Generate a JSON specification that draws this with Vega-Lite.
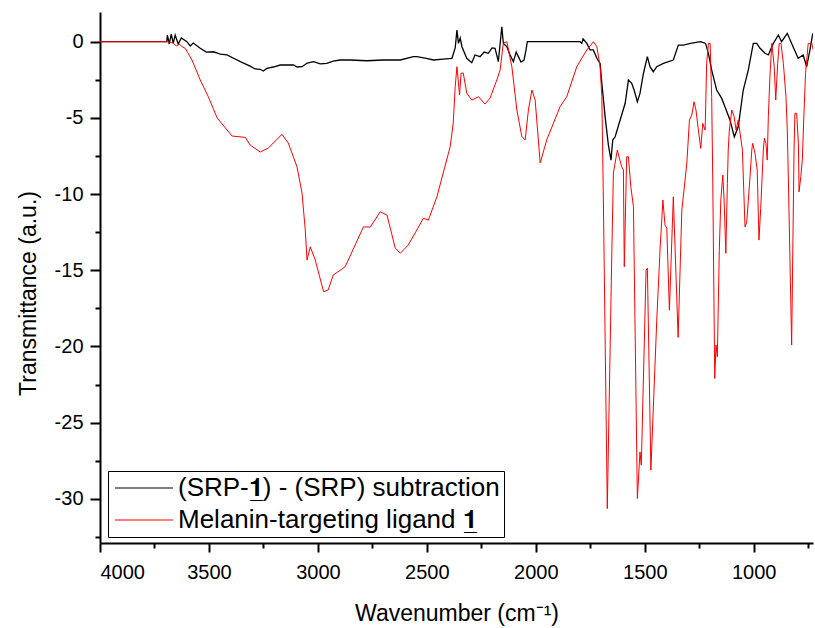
{
  "$schema": "https://vega.github.io/schema/vega-lite/v6.json",
  "width": 713,
  "height": 531,
  "autosize": "none",
  "padding": {"left": 100, "top": 12, "right": 2, "bottom": 85},
  "background": "white",
  "datasets": {
    "sub": [
      {"wn":4000,"t":0},{"wn":3700,"t":0},{"wn":3693,"t":0},{"wn":3691,"t":0.44},{"wn":3682,"t":-0.15},{"wn":3673,"t":0.51},{"wn":3664,"t":-0.09},{"wn":3655,"t":0.44},{"wn":3641,"t":-0.15},{"wn":3627,"t":0.24},{"wn":3601,"t":0},{"wn":3586,"t":-0.28},{"wn":3572,"t":-0.09},{"wn":3540,"t":-0.43},{"wn":3512,"t":-0.68},{"wn":3479,"t":-0.66},{"wn":3448,"t":-0.81},{"wn":3417,"t":-0.87},{"wn":3389,"t":-1.07},{"wn":3356,"t":-1.31},{"wn":3311,"t":-1.6},{"wn":3288,"t":-1.79},{"wn":3265,"t":-1.81},{"wn":3251,"t":-1.92},{"wn":3234,"t":-1.75},{"wn":3205,"t":-1.66},{"wn":3173,"t":-1.53},{"wn":3141,"t":-1.53},{"wn":3112,"t":-1.53},{"wn":3095,"t":-1.66},{"wn":3073,"t":-1.64},{"wn":3049,"t":-1.4},{"wn":3020,"t":-1.31},{"wn":2989,"t":-1.46},{"wn":2959,"t":-1.42},{"wn":2930,"t":-1.27},{"wn":2898,"t":-1.2},{"wn":2852,"t":-1.2},{"wn":2775,"t":-1.25},{"wn":2701,"t":-1.2},{"wn":2622,"t":-1.2},{"wn":2562,"t":-0.98},{"wn":2546,"t":-0.98},{"wn":2508,"t":-1.07},{"wn":2470,"t":-1.2},{"wn":2425,"t":-1.14},{"wn":2385,"t":-1.09},{"wn":2370,"t":-0.41},{"wn":2362,"t":0.77},{"wn":2355,"t":-0.11},{"wn":2347,"t":0.24},{"wn":2339,"t":-0.33},{"wn":2317,"t":-1.09},{"wn":2294,"t":-1.38},{"wn":2279,"t":-0.87},{"wn":2256,"t":-0.98},{"wn":2237,"t":-0.68},{"wn":2218,"t":-0.76},{"wn":2201,"t":-0.41},{"wn":2187,"t":-0.43},{"wn":2172,"t":-1.31},{"wn":2156,"t":0.98},{"wn":2149,"t":-0.11},{"wn":2133,"t":-0.33},{"wn":2118,"t":-0.87},{"wn":2103,"t":-1.31},{"wn":2090,"t":-0.68},{"wn":2080,"t":-0.98},{"wn":2068,"t":-1.33},{"wn":2054,"t":-1.2},{"wn":2045,"t":-0.54},{"wn":2039,"t":0},{"wn":1797,"t":0},{"wn":1789,"t":-0.11},{"wn":1783,"t":0.18},{"wn":1766,"t":-0.11},{"wn":1751,"t":-0.54},{"wn":1736,"t":-0.54},{"wn":1720,"t":-1.09},{"wn":1710,"t":-1.31},{"wn":1705,"t":-1.42},{"wn":1697,"t":-2.73},{"wn":1682,"t":-4.92},{"wn":1667,"t":-6.78},{"wn":1659,"t":-7.44},{"wn":1655,"t":-7.77},{"wn":1647,"t":-6.45},{"wn":1636,"t":-6.24},{"wn":1613,"t":-5.14},{"wn":1590,"t":-4.04},{"wn":1575,"t":-2.51},{"wn":1560,"t":-2.73},{"wn":1549,"t":-3.17},{"wn":1534,"t":-3.94},{"wn":1522,"t":-3.39},{"wn":1506,"t":-2.07},{"wn":1488,"t":-0.98},{"wn":1476,"t":-1.64},{"wn":1461,"t":-1.97},{"wn":1445,"t":-1.64},{"wn":1415,"t":-1.42},{"wn":1369,"t":-1.2},{"wn":1346,"t":-0.22},{"wn":1323,"t":-0.22},{"wn":1290,"t":-0.11},{"wn":1244,"t":0},{"wn":1221,"t":-0.11},{"wn":1208,"t":-0.76},{"wn":1193,"t":-1.86},{"wn":1170,"t":-3.17},{"wn":1147,"t":-3.72},{"wn":1132,"t":-4.27},{"wn":1109,"t":-5.14},{"wn":1089,"t":-6.24},{"wn":1071,"t":-5.58},{"wn":1048,"t":-3.17},{"wn":1025,"t":-1.86},{"wn":1002,"t":-0.11},{"wn":986,"t":-0.11},{"wn":971,"t":-0.43},{"wn":948,"t":-0.76},{"wn":933,"t":-0.87},{"wn":910,"t":-0.11},{"wn":887,"t":0.44},{"wn":872,"t":0},{"wn":846,"t":0.55},{"wn":826,"t":-0.11},{"wn":796,"t":-1.09},{"wn":773,"t":-0.87},{"wn":757,"t":-1.64},{"wn":742,"t":-0.54},{"wn":729,"t":0.55}
    ],
    "lig": [
      {"wn":4000,"t":0},{"wn":3687,"t":0},{"wn":3664,"t":-0.09},{"wn":3650,"t":-0.28},{"wn":3636,"t":-0.15},{"wn":3622,"t":-0.35},{"wn":3609,"t":-0.43},{"wn":3578,"t":-1.2},{"wn":3540,"t":-2.51},{"wn":3503,"t":-3.61},{"wn":3462,"t":-5.01},{"wn":3394,"t":-6.19},{"wn":3333,"t":-6.28},{"wn":3311,"t":-6.78},{"wn":3265,"t":-7.24},{"wn":3228,"t":-6.98},{"wn":3165,"t":-6.08},{"wn":3136,"t":-6.65},{"wn":3096,"t":-8.21},{"wn":3073,"t":-9.93},{"wn":3058,"t":-12.36},{"wn":3050,"t":-14.33},{"wn":3035,"t":-13.46},{"wn":3012,"t":-14.33},{"wn":2974,"t":-16.41},{"wn":2953,"t":-16.3},{"wn":2930,"t":-15.32},{"wn":2875,"t":-14.77},{"wn":2791,"t":-12.15},{"wn":2760,"t":-12.17},{"wn":2714,"t":-11.16},{"wn":2683,"t":-11.38},{"wn":2645,"t":-13.55},{"wn":2622,"t":-13.89},{"wn":2586,"t":-13.35},{"wn":2546,"t":-12.36},{"wn":2516,"t":-11.58},{"wn":2493,"t":-11.71},{"wn":2454,"t":-10.18},{"wn":2425,"t":-8.62},{"wn":2393,"t":-6.89},{"wn":2379,"t":-5.34},{"wn":2370,"t":-2.95},{"wn":2362,"t":-1.64},{"wn":2350,"t":-3.5},{"wn":2343,"t":-2.06},{"wn":2333,"t":-2.06},{"wn":2317,"t":-3.37},{"wn":2294,"t":-3.83},{"wn":2263,"t":-3.61},{"wn":2233,"t":-4.09},{"wn":2210,"t":-3.7},{"wn":2179,"t":-2.51},{"wn":2164,"t":-1.86},{"wn":2149,"t":-0.09},{"wn":2133,"t":0},{"wn":2110,"t":-1.64},{"wn":2087,"t":-4.48},{"wn":2064,"t":-6.24},{"wn":2049,"t":-6.45},{"wn":2034,"t":-4.48},{"wn":2018,"t":-3.17},{"wn":2003,"t":-3.83},{"wn":1980,"t":-7.96},{"wn":1950,"t":-6.45},{"wn":1919,"t":-5.34},{"wn":1889,"t":-4.27},{"wn":1858,"t":-3.61},{"wn":1812,"t":-1.64},{"wn":1766,"t":-0.54},{"wn":1736,"t":0},{"wn":1720,"t":-0.33},{"wn":1705,"t":-1.64},{"wn":1697,"t":-3.61},{"wn":1690,"t":-10.39},{"wn":1672,"t":-30.64},{"wn":1651,"t":-13.68},{"wn":1644,"t":-8.62},{"wn":1626,"t":-7.11},{"wn":1606,"t":-8.21},{"wn":1598,"t":-8.42},{"wn":1594,"t":-14.77},{"wn":1583,"t":-7.55},{"wn":1575,"t":-7.55},{"wn":1564,"t":-9.52},{"wn":1552,"t":-10.83},{"wn":1534,"t":-29.98},{"wn":1522,"t":-26.92},{"wn":1516,"t":-27.79},{"wn":1494,"t":-14.99},{"wn":1488,"t":-14.86},{"wn":1472,"t":-28.12},{"wn":1445,"t":-18.27},{"wn":1430,"t":-13.68},{"wn":1417,"t":-10.39},{"wn":1407,"t":-12.04},{"wn":1399,"t":-12.23},{"wn":1387,"t":-17.62},{"wn":1369,"t":-10.18},{"wn":1347,"t":-19.41},{"wn":1330,"t":-11.05},{"wn":1320,"t":-9.74},{"wn":1307,"t":-7.96},{"wn":1295,"t":-5.14},{"wn":1284,"t":-4.81},{"wn":1274,"t":-3.94},{"wn":1265,"t":-4.48},{"wn":1254,"t":-5.8},{"wn":1243,"t":-7.0},{"wn":1234,"t":-5.36},{"wn":1223,"t":-5.8},{"wn":1216,"t":-1.42},{"wn":1208,"t":-0.11},{"wn":1200,"t":-0.11},{"wn":1193,"t":-3.61},{"wn":1188,"t":-9.08},{"wn":1179,"t":-22.1},{"wn":1173,"t":-19.91},{"wn":1167,"t":-20.68},{"wn":1158,"t":-13.68},{"wn":1151,"t":-10.39},{"wn":1142,"t":-8.75},{"wn":1136,"t":-10.39},{"wn":1128,"t":-13.89},{"wn":1121,"t":-9.3},{"wn":1117,"t":-7.11},{"wn":1112,"t":-5.8},{"wn":1101,"t":-4.48},{"wn":1090,"t":-4.92},{"wn":1081,"t":-5.8},{"wn":1071,"t":-5.14},{"wn":1052,"t":-7.11},{"wn":1040,"t":-12.15},{"wn":1032,"t":-11.82},{"wn":1017,"t":-8.86},{"wn":1009,"t":-7.11},{"wn":1005,"t":-6.67},{"wn":994,"t":-7.33},{"wn":984,"t":-8.42},{"wn":976,"t":-13.02},{"wn":968,"t":-10.94},{"wn":956,"t":-7.11},{"wn":951,"t":-6.34},{"wn":944,"t":-6.67},{"wn":938,"t":-7.77},{"wn":933,"t":-4.92},{"wn":925,"t":-2.07},{"wn":917,"t":-0.11},{"wn":906,"t":-1.64},{"wn":899,"t":-3.83},{"wn":890,"t":-1.42},{"wn":883,"t":-0.11},{"wn":875,"t":-0.11},{"wn":864,"t":-1.42},{"wn":852,"t":-3.61},{"wn":846,"t":-5.8},{"wn":841,"t":-9.08},{"wn":826,"t":-19.91},{"wn":815,"t":-7.11},{"wn":811,"t":-4.7},{"wn":803,"t":-4.7},{"wn":795,"t":-6.67},{"wn":792,"t":-9.85},{"wn":784,"t":-8.86},{"wn":777,"t":-7.77},{"wn":769,"t":-4.48},{"wn":762,"t":-2.07},{"wn":750,"t":-0.11},{"wn":734,"t":-0.11},{"wn":727,"t":-0.54}
    ]
  },
  "layer": [
    {
      "data": {"name": "sub"},
      "mark": {"type": "line", "strokeWidth": 1.3, "clip": true},
      "encoding": {
        "x": {"field": "wn", "type": "quantitative"},
        "y": {"field": "t", "type": "quantitative"},
        "color": {"datum": "(SRP-1) - (SRP) subtraction"}
      }
    },
    {
      "data": {"name": "lig"},
      "mark": {"type": "line", "strokeWidth": 1, "clip": true},
      "encoding": {
        "x": {"field": "wn", "type": "quantitative"},
        "y": {"field": "t", "type": "quantitative"},
        "color": {"datum": "Melanin-targeting ligand 1"}
      }
    }
  ],
  "resolve": {"scale": {"x": "shared", "y": "shared", "color": "shared"}},
  "encoding": {
    "x": {
      "field": "wn", "type": "quantitative",
      "scale": {"domain": [4000, 728], "nice": false, "zero": false},
      "axis": {
        "title": "Wavenumber (cm⁻¹)",
        "values": [4000,3750,3500,3250,3000,2750,2500,2250,2000,1750,1500,1250,1000,750],
        "labelExpr": "datum.value % 500 === 0 ? toString(datum.value) : ''",
        "tickSize": {"condition": {"test": "datum.value % 500 === 0", "value": 9}, "value": 5},
        "labelPadding": 10,
        "titlePadding": 20
      }
    },
    "y": {
      "field": "t", "type": "quantitative",
      "scale": {"domain": [-32.9, 1.95], "nice": false, "zero": false},
      "axis": {
        "title": "Transmittance (a.u.)",
        "values": [-32.5,-30,-27.5,-25,-22.5,-20,-17.5,-15,-12.5,-10,-7.5,-5,-2.5,0],
        "labelExpr": "datum.value % 5 === 0 ? toString(datum.value) : ''",
        "tickSize": {"condition": {"test": "datum.value % 5 === 0", "value": 10}, "value": 5},
        "labelPadding": 7,
        "titlePadding": 14,
        "titleY": 281
      }
    },
    "color": {
      "type": "nominal",
      "scale": {"domain": ["(SRP-1) - (SRP) subtraction", "Melanin-targeting ligand 1"], "range": ["#000000", "#ff0000"]},
      "legend": {
        "title": null,
        "orient": "none",
        "legendX": 8,
        "legendY": 459,
        "strokeColor": "#000000",
        "fillColor": "#ffffff",
        "padding": 4,
        "symbolType": "M-1,0H4.8",
        "symbolSize": 400,
        "symbolStrokeWidth": 1.2,
        "labelOffset": 40,
        "rowPadding": 6,
        "labelFont": "Liberation Sans",
        "labelFontSize": 26,
        "labelColor": "#000000",
        "labelLimit": 0,
        "labelExpr": "datum.label == 'Melanin-targeting ligand 1' ? 'Melanin-targeting ligand 𝟏̲' : '(SRP-𝟏̲) - (SRP) subtraction'"
      }
    }
  },
  "config": {
    "view": {"stroke": null},
    "font": "Liberation Sans",
    "axis": {
      "grid": false,
      "domainColor": "#000000",
      "domainWidth": 2,
      "tickColor": "#000000",
      "tickWidth": 2,
      "labelFont": "Liberation Sans",
      "labelFontSize": 20,
      "labelColor": "#000000",
      "titleFont": "Liberation Sans",
      "titleFontSize": 23,
      "titleFontWeight": "normal",
      "titleColor": "#000000",
      "labelOverlap": false
    }
  }
}
